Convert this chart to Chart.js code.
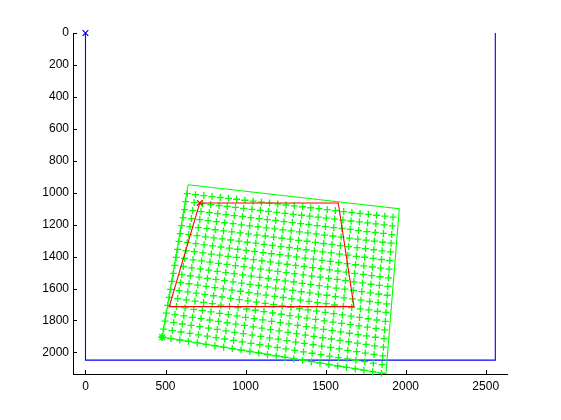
<!DOCTYPE html>
<html lang="en">
<head>
  <meta charset="UTF-8">
  <title>Detected grid points</title>
  <script src="https://cdn.jsdelivr.net/npm/chart.js"></script>
  <style>
    body { margin: 0; background: #fff; }
  </style>
</head>
<body>
  <canvas id="chart" width="561" height="420"></canvas>
  <script>
    const xTicks = [0, 500, 1000, 1500, 2000, 2500];
    const yTicks = [0, 200, 400, 600, 800, 1000, 1200, 1400, 1600, 1800, 2000];

    // image frame (blue); its top edge sits on the axis limit
    const frameX = [0, 0, 2560, 2560];
    const frameY = [0, 2048, 2048, 0];

    // outer green outline
    const outerX = [641, 1960, 1877, 479, 641];
    const outerY = [950, 1100, 2133, 1904, 950];

    // red region
    const roiX = [714, 1579, 1677, 523, 714];
    const roiY = [1064, 1064, 1713, 1713, 1064];

    // single markers
    const originX = [0], originY = [0];
    const roiMarkX = [714], roiMarkY = [1064];
    const starX = [479], starY = [1904];

    // grid points, one row at a time
    const rowX00 = [636,687,739,790,842,893,944,996,1047,1099,1150,1201,1253,1304,1356,1407,1458,1510,1561,1613,1664,1715,1767,1818,1870,1921];
    const rowY00 = [1006,1012,1018,1024,1030,1035,1041,1047,1053,1059,1065,1071,1077,1082,1088,1094,1100,1106,1112,1118,1124,1130,1135,1141,1147,1153];
    const rowX01 = [627,679,731,782,834,885,937,988,1040,1092,1143,1195,1246,1298,1350,1401,1453,1504,1556,1608,1659,1711,1762,1814,1866,1917];
    const rowY01 = [1056,1062,1068,1074,1080,1086,1092,1098,1104,1110,1117,1123,1129,1135,1141,1147,1153,1159,1165,1171,1177,1183,1189,1195,1201,1207];
    const rowX02 = [619,670,722,774,826,878,929,981,1033,1085,1136,1188,1240,1292,1344,1395,1447,1499,1551,1602,1654,1706,1758,1810,1861,1913];
    const rowY02 = [1106,1112,1118,1125,1131,1137,1143,1149,1156,1162,1168,1174,1181,1187,1193,1199,1206,1212,1218,1224,1230,1237,1243,1249,1255,1262];
    const rowX03 = [610,662,714,766,818,870,922,974,1026,1078,1130,1182,1233,1285,1337,1389,1441,1493,1545,1597,1649,1701,1753,1805,1857,1909];
    const rowY03 = [1156,1162,1169,1175,1181,1188,1194,1201,1207,1213,1220,1226,1233,1239,1245,1252,1258,1265,1271,1278,1284,1290,1297,1303,1310,1316];
    const rowX04 = [601,653,705,758,810,862,914,966,1018,1071,1123,1175,1227,1279,1331,1384,1436,1488,1540,1592,1644,1697,1749,1801,1853,1905];
    const rowY04 = [1206,1212,1219,1225,1232,1239,1245,1252,1258,1265,1271,1278,1285,1291,1298,1304,1311,1318,1324,1331,1337,1344,1350,1357,1364,1370];
    const rowX05 = [592,645,697,750,802,854,907,959,1011,1064,1116,1168,1221,1273,1325,1378,1430,1482,1535,1587,1639,1692,1744,1797,1849,1901];
    const rowY05 = [1256,1262,1269,1276,1283,1289,1296,1303,1310,1316,1323,1330,1337,1343,1350,1357,1364,1370,1377,1384,1391,1398,1404,1411,1418,1425];
    const rowX06 = [584,636,689,741,794,846,899,951,1004,1057,1109,1162,1214,1267,1319,1372,1424,1477,1529,1582,1634,1687,1739,1792,1844,1897];
    const rowY06 = [1305,1312,1319,1326,1333,1340,1347,1354,1361,1368,1375,1382,1388,1395,1402,1409,1416,1423,1430,1437,1444,1451,1458,1465,1472,1479];
    const rowX07 = [575,628,680,733,786,839,891,944,997,1050,1102,1155,1208,1260,1313,1366,1419,1471,1524,1577,1629,1682,1735,1788,1840,1893];
    const rowY07 = [1355,1362,1369,1377,1384,1391,1398,1405,1412,1419,1426,1433,1441,1448,1455,1462,1469,1476,1483,1490,1497,1505,1512,1519,1526,1533];
    const rowX08 = [566,619,672,725,778,831,884,937,990,1042,1095,1148,1201,1254,1307,1360,1413,1466,1519,1572,1624,1677,1730,1783,1836,1889];
    const rowY08 = [1405,1412,1420,1427,1434,1442,1449,1456,1463,1471,1478,1485,1493,1500,1507,1514,1522,1529,1536,1543,1551,1558,1565,1573,1580,1587];
    const rowX09 = [558,611,664,717,770,823,876,929,982,1035,1089,1142,1195,1248,1301,1354,1407,1460,1513,1566,1620,1673,1726,1779,1832,1885];
    const rowY09 = [1455,1462,1470,1477,1485,1492,1500,1507,1515,1522,1530,1537,1545,1552,1559,1567,1574,1582,1589,1597,1604,1612,1619,1627,1634,1642];
    const rowX10 = [549,602,655,709,762,815,869,922,975,1028,1082,1135,1188,1242,1295,1348,1401,1455,1508,1561,1615,1668,1721,1775,1828,1881];
    const rowY10 = [1505,1513,1520,1528,1536,1543,1551,1558,1566,1574,1581,1589,1597,1604,1612,1620,1627,1635,1642,1650,1658,1665,1673,1681,1688,1696];
    const rowX11 = [540,594,647,701,754,808,861,915,968,1021,1075,1128,1182,1235,1289,1342,1396,1449,1503,1556,1610,1663,1717,1770,1824,1877];
    const rowY11 = [1555,1563,1570,1578,1586,1594,1602,1610,1617,1625,1633,1641,1649,1656,1664,1672,1680,1688,1695,1703,1711,1719,1727,1734,1742,1750];
    const rowX12 = [531,585,639,692,746,800,853,907,961,1014,1068,1122,1175,1229,1283,1337,1390,1444,1498,1551,1605,1659,1712,1766,1820,1873];
    const rowY12 = [1605,1613,1621,1629,1637,1645,1653,1661,1669,1677,1685,1693,1701,1709,1717,1725,1733,1741,1749,1757,1765,1773,1781,1789,1797,1805];
    const rowX13 = [523,576,630,684,738,792,846,900,953,1007,1061,1115,1169,1223,1277,1331,1384,1438,1492,1546,1600,1654,1708,1761,1815,1869];
    const rowY13 = [1655,1663,1671,1679,1687,1695,1704,1712,1720,1728,1736,1744,1753,1761,1769,1777,1785,1793,1802,1810,1818,1826,1834,1842,1850,1859];
    const rowX14 = [514,568,622,676,730,784,838,892,946,1000,1054,1108,1163,1217,1271,1325,1379,1433,1487,1541,1595,1649,1703,1757,1811,1865];
    const rowY14 = [1705,1713,1721,1730,1738,1746,1755,1763,1771,1780,1788,1796,1805,1813,1821,1830,1838,1846,1855,1863,1871,1880,1888,1896,1905,1913];
    const rowX15 = [505,559,614,668,722,776,831,885,939,993,1048,1102,1156,1210,1265,1319,1373,1427,1482,1536,1590,1644,1699,1753,1807,1861];
    const rowY15 = [1754,1763,1771,1780,1788,1797,1806,1814,1823,1831,1840,1848,1857,1865,1874,1882,1891,1899,1908,1916,1925,1933,1942,1950,1959,1967];
    const rowX16 = [497,551,605,660,714,769,823,877,932,986,1041,1095,1150,1204,1258,1313,1367,1422,1476,1531,1585,1639,1694,1748,1803,1857];
    const rowY16 = [1804,1813,1822,1830,1839,1848,1856,1865,1874,1882,1891,1900,1909,1917,1926,1935,1943,1952,1961,1969,1978,1987,1995,2004,2013,2022];
    const rowX17 = [488,542,597,652,706,761,816,870,925,979,1034,1089,1143,1198,1252,1307,1362,1416,1471,1525,1580,1635,1689,1744,1798,1853];
    const rowY17 = [1854,1863,1872,1881,1890,1898,1907,1916,1925,1934,1943,1952,1961,1969,1978,1987,1996,2005,2014,2023,2032,2040,2049,2058,2067,2076];
    const rowX18 = [479,534,589,643,698,753,808,863,917,972,1027,1082,1137,1191,1246,1301,1356,1411,1465,1520,1575,1630,1685,1739,1794,1849];
    const rowY18 = [1904,1913,1922,1931,1940,1949,1958,1967,1976,1985,1994,2003,2013,2022,2031,2040,2049,2058,2067,2076,2085,2094,2103,2112,2121,2130];

    const gridX = [rowX00, rowX01, rowX02, rowX03, rowX04, rowX05, rowX06, rowX07, rowX08, rowX09,
                   rowX10, rowX11, rowX12, rowX13, rowX14, rowX15, rowX16, rowX17, rowX18];
    const gridY = [rowY00, rowY01, rowY02, rowY03, rowY04, rowY05, rowY06, rowY07, rowY08, rowY09,
                   rowY10, rowY11, rowY12, rowY13, rowY14, rowY15, rowY16, rowY17, rowY18];

    function toPoints(xs, ys) {
      return xs.map((x, i) => ({ x: x, y: ys[i] }));
    }

    const gridPoints = [];
    gridX.forEach((xs, r) => gridPoints.push(...toPoints(xs, gridY[r])));

    // matlab style ticks pointing into the plot
    const inwardTicks = {
      id: 'inwardTicks',
      afterDraw(chart) {
        const { ctx, chartArea, scales } = chart;
        ctx.save();
        ctx.strokeStyle = '#000';
        ctx.lineWidth = 1;
        ctx.beginPath();
        for (const v of xTicks) {
          const px = Math.round(scales.x.getPixelForValue(v)) + 0.5;
          ctx.moveTo(px, chartArea.bottom);
          ctx.lineTo(px, chartArea.bottom - 4);
        }
        for (const v of yTicks) {
          const py = Math.round(scales.y.getPixelForValue(v)) + 0.5;
          ctx.moveTo(chartArea.left, py);
          ctx.lineTo(chartArea.left + 4, py);
        }
        ctx.stroke();
        ctx.restore();
      }
    };

    const tickFont = { family: 'Liberation Sans', size: 12 };
    const plain = v => String(v);

    new Chart(document.getElementById('chart').getContext('2d'), {
      type: 'scatter',
      data: {
        datasets: [
          { data: toPoints(originX, originY), pointStyle: 'crossRot', pointRadius: 4,
            borderColor: '#0000ff', borderWidth: 1.2, order: 0, clip: false },
          { data: toPoints(roiMarkX, roiMarkY), pointStyle: 'crossRot', pointRadius: 4,
            borderColor: '#ff0000', borderWidth: 1.2, order: 0, clip: false },
          { data: toPoints(starX, starY), pointStyle: 'star', pointRadius: 4,
            borderColor: '#00ff00', borderWidth: 1.4, order: 0, clip: false },
          { data: toPoints(roiX, roiY), showLine: true, pointRadius: 0,
            borderColor: '#ff0000', borderWidth: 1.1, order: 1 },
          { data: gridPoints, pointStyle: 'cross', pointRadius: 3.5,
            borderColor: '#00ff00', borderWidth: 1.3, order: 2, clip: false },
          { data: toPoints(outerX, outerY), showLine: true, pointRadius: 0,
            borderColor: '#00ff00', borderWidth: 1.1, order: 3, clip: false },
          { data: toPoints(frameX, frameY), showLine: true, pointRadius: 0,
            borderColor: '#0000ff', borderWidth: 1.1, order: 4 }
        ]
      },
      options: {
        responsive: false,
        animation: false,
        layout: { padding: { top: 33, right: 54, left: 0, bottom: 0 } },
        plugins: {
          legend: { display: false },
          tooltip: { enabled: false }
        },
        scales: {
          x: {
            type: 'linear',
            min: -78,
            max: 2633,
            afterBuildTicks: s => { s.ticks = xTicks.map(v => ({ value: v })); },
            afterFit: s => { s.height = 46; },
            grid: { drawOnChartArea: false, drawTicks: false },
            border: { color: '#000', width: 1 },
            ticks: { color: '#000', font: tickFont, padding: 5, maxRotation: 0, callback: plain }
          },
          y: {
            type: 'linear',
            reverse: true,
            min: 0,
            max: 2135,
            afterBuildTicks: s => { s.ticks = yTicks.map(v => ({ value: v })); },
            afterFit: s => { s.width = 73; },
            grid: { drawOnChartArea: false, drawTicks: false },
            border: { color: '#000', width: 1 },
            ticks: { color: '#000', font: tickFont, padding: 4, callback: plain }
          }
        }
      },
      plugins: [inwardTicks]
    });
  </script>
</body>
</html>
